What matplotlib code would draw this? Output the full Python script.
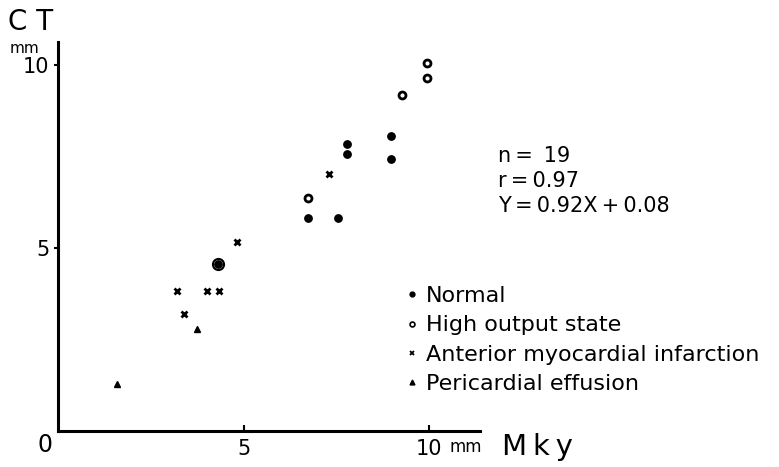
import matplotlib
matplotlib.use('Agg')
import matplotlib.pyplot as plt
from matplotlib.lines import Line2D

# 데이터 (그림에서 읽은 값, 단위 mm)
normal_x = [4.31, 6.74, 7.55, 7.79, 7.79, 8.98, 8.98]
normal_y = [4.56, 5.82, 5.82, 7.58, 7.83, 7.42, 8.05]
high_x = [6.74, 9.27, 9.95, 9.95]
high_y = [6.37, 9.18, 9.64, 10.05]
ami_x = [3.21, 3.40, 4.02, 4.34, 4.82, 7.30]
ami_y = [3.82, 3.21, 3.82, 3.82, 5.16, 7.03]
peri_x = [1.59, 3.75]
peri_y = [1.29, 2.80]

labels = ['Normal', 'High output state', 'Anterior myocardial infarction', 'Pericardial effusion']
ts = '\u2009'
stats = ['n' + ts + '=' + ts + ' 19', 'r' + ts + '=' + ts + '0.97',
         'Y' + ts + '=' + ts + '0.92X' + ts + '+' + ts + '0.08']

W, H = 779, 467
fig = plt.figure(figsize=(W / 100, H / 100), dpi=100)
ax = fig.add_axes([58 / W, (H - 431) / H, (480 - 58) / W, (431 - 42) / H])


def px(x, y):
    # 픽셀 좌표 -> figure 좌표
    return x / W, 1 - y / H


ax.plot(normal_x, normal_y, 'o', color='black', ms=5.3, ls='none')
# 겹친 점 (⊙)
ax.plot(normal_x[0], normal_y[0], 'o', mfc='none', mec='black', ms=8, mew=1.5)
ax.plot(high_x, high_y, 'o', mfc='white', mec='black', ms=5, mew=2, ls='none')
ax.plot(ami_x, ami_y, 'x', color='black', ms=4.5, mew=2, ls='none')
ax.plot(peri_x, peri_y, '^', color='black', ms=5, ls='none')

ax.set_xlim(0, 11.37)
ax.set_ylim(0, 10.63)
ax.spines['top'].set_visible(False)
ax.spines['right'].set_visible(False)
ax.spines['left'].set_linewidth(2.2)
ax.spines['bottom'].set_linewidth(2.2)

ax.set_xticks([5, 10], ['5', '10'])
ax.set_yticks([5, 10], ['5', '10'])
ax.tick_params(axis='x', direction='in', length=4, width=1.5, labelsize=15, pad=6)
ax.tick_params(axis='y', direction='out', length=3, width=1.5, labelsize=15, pad=3)

fs = 16
fig.text(*px(45, 452), '0', fontsize=17, ha='center', va='baseline')
fig.text(*px(450, 452), 'mm', fontsize=12, ha='left', va='baseline')
fig.text(*px(502, 455), 'M' + ts + 'k' + ts + 'y', fontsize=21, ha='left', va='baseline')
fig.text(*px(8, 30), 'C T', fontsize=20, ha='left', va='baseline')
fig.text(*px(10, 53), 'mm', fontsize=11, ha='left', va='baseline')

for i, s in enumerate(stats):
    fig.text(*px(498, 162 + 25 * i), s, fontsize=15, ha='left', va='baseline')

# 범례 (작은 기호)
handles = [
    Line2D([], [], marker='o', color='black', ms=3.5, ls='none'),
    Line2D([], [], marker='o', mfc='white', mec='black', ms=3.5, mew=1.2, ls='none'),
    Line2D([], [], marker='x', color='black', ms=3.5, mew=1.3, ls='none'),
    Line2D([], [], marker='^', color='black', ms=3.5, ls='none'),
]
ax.legend(handles, labels, loc='upper left', bbox_to_anchor=px(408, 286),
          bbox_transform=fig.transFigure, frameon=False, fontsize=fs,
          handlelength=0.4, handletextpad=0.4, borderpad=0, borderaxespad=0,
          labelspacing=0.42)

fig.savefig('out.png', dpi=100)
